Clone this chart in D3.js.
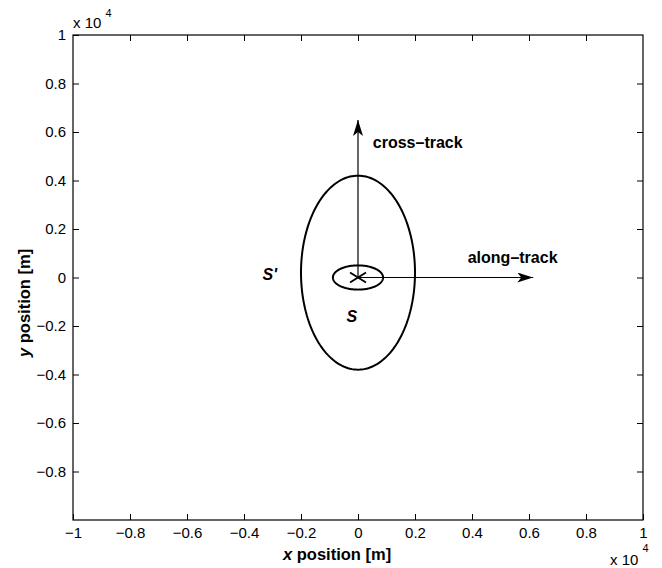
<!DOCTYPE html>
<html lang="en">
<head>
    <meta charset="UTF-8">
    <title>Footprint ellipses</title>
    <script src="https://d3js.org/d3.v7.min.js"></script>
    <style>
        body { margin: 0; background: #fff; }
        text { font-family: "Liberation Sans", Arial, Helvetica, sans-serif; fill: #000; }
    </style>
</head>
<body>
    <div id="chart"></div>
    <script>
        // axis ticks (metres)
        const xTicks = [-10000, -8000, -6000, -4000, -2000, 0, 2000, 4000, 6000, 8000, 10000];
        const yTicks = [-8000, -6000, -4000, -2000, 0, 2000, 4000, 6000, 8000, 10000];

        // ellipses: S' (outer) and S (inner)
        const ellipseNames = ["S'", "S"];
        const ellipseCx = [0, 0];
        const ellipseCy = [200, 0];
        const ellipseRx = [2000, 880];
        const ellipseRy = [4000, 500];
        const ellipseLabelX = [-3350, -400];
        const ellipseLabelY = [-100, -1850];

        // direction arrows from origin
        const arrowNames = ["cross–track", "along–track"];
        const arrowDx = [0, 6150];
        const arrowDy = [6500, 0];
        const arrowLabelX = [520, 3850];
        const arrowLabelY = [5340, 600];

        const width = 662, height = 568;
        const margin = { top: 35, right: 19, bottom: 48, left: 73 };

        const svg = d3.select('#chart').append('svg')
            .attr('width', width)
            .attr('height', height);

        const x = d3.scaleLinear().domain([-10000, 10000]).range([margin.left, width - margin.right]);
        const y = d3.scaleLinear().domain([-10000, 10000]).range([height - margin.bottom, margin.top]);

        const fmt = v => String(+(v / 10000).toFixed(1)).replace('-', '\u2212');

        // box
        svg.append('rect')
            .attr('x', x(-10000)).attr('y', y(10000))
            .attr('width', x(10000) - x(-10000))
            .attr('height', y(-10000) - y(10000))
            .attr('fill', 'none').attr('stroke', '#000').attr('stroke-width', 1.2);

        // axes, ticks pointing inward
        svg.append('g')
            .attr('transform', `translate(0,${y(-10000)})`)
            .call(d3.axisBottom(x).tickValues(xTicks).tickSizeInner(-6).tickSizeOuter(0).tickPadding(7).tickFormat(fmt))
            .call(g => g.select('.domain').remove())
            .call(g => g.selectAll('text').attr('dy', '0.71em'));
        svg.append('g')
            .attr('transform', `translate(0,${y(10000)})`)
            .call(d3.axisTop(x).tickValues(xTicks.slice(1, -1)).tickSizeInner(-6).tickSizeOuter(0).tickFormat(''))
            .call(g => g.select('.domain').remove());
        svg.append('g')
            .attr('transform', `translate(${x(-10000)},0)`)
            .call(d3.axisLeft(y).tickValues(yTicks).tickSizeInner(-6).tickSizeOuter(0).tickPadding(7).tickFormat(fmt))
            .call(g => g.select('.domain').remove());
        svg.append('g')
            .attr('transform', `translate(${x(10000)},0)`)
            .call(d3.axisRight(y).tickValues(yTicks.slice(0, -1)).tickSizeInner(-6).tickSizeOuter(0).tickFormat(''))
            .call(g => g.select('.domain').remove());

        svg.selectAll('.tick text').attr('font-size', 15).attr('font-family', '"Liberation Sans", Arial, sans-serif');
        svg.selectAll('.tick line').attr('stroke', '#000');

        // exponent labels
        const exp1 = svg.append('text').attr('x', 73).attr('y', 28).attr('font-size', 15);
        exp1.append('tspan').text('x 10 ');
        exp1.append('tspan').attr('dy', -11).attr('font-size', 11).text('4');
        const exp2 = svg.append('text').attr('x', 610).attr('y', 565).attr('font-size', 15);
        exp2.append('tspan').text('x 10 ');
        exp2.append('tspan').attr('dy', -13).attr('font-size', 11).text('4');

        // axis titles
        const xl = svg.append('text')
            .attr('x', 283).attr('y', 560)
            .attr('font-size', 16.5).attr('font-weight', 'bold');
        xl.append('tspan').attr('font-style', 'italic').text('x');
        xl.append('tspan').text(' position [m]');
        const yl = svg.append('text')
            .attr('transform', 'translate(29.5,357) rotate(-90)')
            .attr('font-size', 16.5).attr('font-weight', 'bold');
        yl.append('tspan').attr('font-style', 'italic').text('y');
        yl.append('tspan').text(' position [m]');

        // ellipses
        const angles = d3.range(0, 361, 2).map(a => a * Math.PI / 180);
        const line = d3.line().x(d => d[0]).y(d => d[1]);
        ellipseNames.forEach((name, i) => {
            const pts = angles.map(t => [
                x(ellipseCx[i] + ellipseRx[i] * Math.cos(t)),
                y(ellipseCy[i] + ellipseRy[i] * Math.sin(t))
            ]);
            svg.append('path').attr('d', line(pts))
                .attr('fill', 'none').attr('stroke', '#000').attr('stroke-width', 2);
            svg.append('text')
                .attr('x', x(ellipseLabelX[i])).attr('y', y(ellipseLabelY[i]))
                .attr('font-size', 16).attr('font-weight', 'bold').attr('font-style', 'italic')
                .text(name);
        });

        // arrow head marker
        svg.append('defs').append('marker')
            .attr('id', 'head')
            .attr('viewBox', '0 0 16 10')
            .attr('refX', 16).attr('refY', 5)
            .attr('markerWidth', 16).attr('markerHeight', 10)
            .attr('markerUnits', 'userSpaceOnUse')
            .attr('orient', 'auto')
            .append('path')
            .attr('d', 'M0,0 L16,5 L0,10 L4,5 Z')
            .attr('fill', '#000');

        arrowNames.forEach((name, i) => {
            svg.append('line')
                .attr('x1', x(0)).attr('y1', y(0))
                .attr('x2', x(arrowDx[i])).attr('y2', y(arrowDy[i]))
                .attr('stroke', '#000').attr('stroke-width', 1.2)
                .attr('marker-end', 'url(#head)');
            svg.append('text')
                .attr('x', x(arrowLabelX[i])).attr('y', y(arrowLabelY[i]))
                .attr('font-size', 16).attr('font-weight', 'bold')
                .text(name);
        });

        // centre cross
        const cx = x(0), cy = y(0);
        svg.append('path')
            .attr('d', `M${cx - 8},${cy - 5}L${cx + 8},${cy + 5}M${cx - 8},${cy + 5}L${cx + 8},${cy - 5}`)
            .attr('stroke', '#000').attr('stroke-width', 1.8).attr('fill', 'none');
    </script>
</body>
</html>
